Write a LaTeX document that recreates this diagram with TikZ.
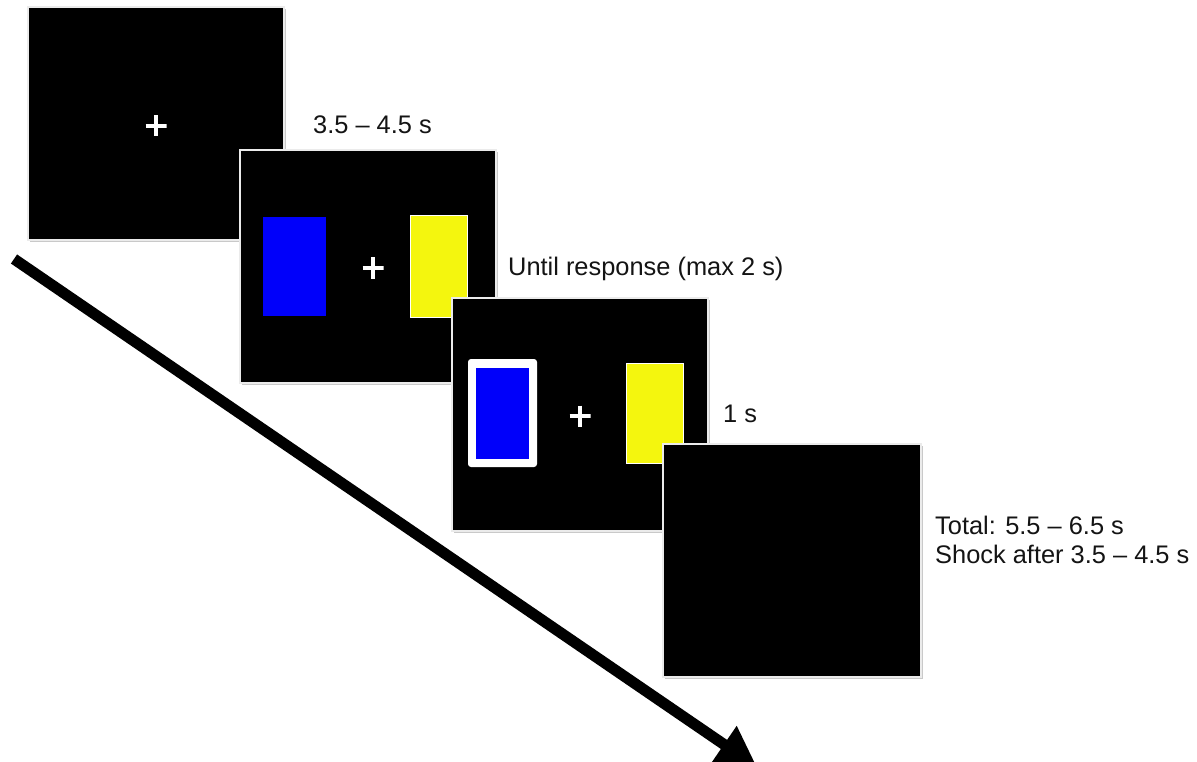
\documentclass[tikz,border=0pt]{standalone}
\usepackage{fontspec}
\setmainfont{Liberation Sans}
\usetikzlibrary{shadows,arrows.meta}
\definecolor{stimyellow}{RGB}{244,246,14}
\definecolor{stimblue}{RGB}{0,0,250}
\definecolor{txt}{RGB}{20,20,20}
\tikzset{
  screen/.style={fill=black, draw=white!92!black, line width=1.2pt, inner sep=0pt, outer sep=0pt,
     minimum width=256pt, minimum height=233pt, anchor=north west,
     drop shadow={shadow xshift=1.5pt, shadow yshift=-2pt, fill=black!60, opacity=0.35}},
  bluecard/.style={fill=stimblue, inner sep=0pt, outer sep=0pt, anchor=north west},
  yellowcard/.style={fill=stimyellow, draw=white, line width=1pt, inner sep=0pt, outer sep=0pt, anchor=north west},
  chosen/.style={fill=white, rounded corners=3pt, inner sep=0pt, outer sep=0pt, anchor=north west},
  fixation/.style={minimum size=21pt, inner sep=0pt,
     path picture={\draw[white, line width=3.6pt]
        (path picture bounding box.north) -- (path picture bounding box.south)
        (path picture bounding box.west) -- (path picture bounding box.east);}},
  label/.style={font=\fontsize{25.4}{29}\selectfont, text=txt, inner sep=0pt, anchor=base west, align=left},
  timearrow/.style={line width=11pt, -{Triangle[length=40pt,width=42pt]}}
}
\begin{document}
\begin{tikzpicture}[x=1pt,y=-1pt]
\clip (0,0) rectangle (1197,762);
\fill[white] (0,0) rectangle (1197,762);

% time arrow
\coordinate (tstart) at (14,259);
\coordinate (tend) at (757,767);
\draw[timearrow] (tstart) -- (tend);

% screen 1: fixation
\node[screen] (s1) at (28,7) {};
\node[fixation] (p1) at (156,126) {};

% screen 2: choice
\node[screen] (s2) at (240,150) {};
\node[bluecard, minimum width=63pt, minimum height=99pt] (b2) at (263,217) {};
\node[yellowcard, minimum width=57pt, minimum height=101pt] (y2) at (410,216) {};
\node[fixation] (p2) at (373,268) {};

% screen 3: feedback
\node[screen] (s3) at (452,298) {};
\node[chosen, minimum width=69pt, minimum height=108pt] (f3) at (468,359) {};
\node[bluecard, minimum width=53pt, minimum height=91pt] (b3) at (476,368) {};
\node[yellowcard, minimum width=57pt, minimum height=100pt] (y3) at (626,363) {};
\node[fixation] (p3) at (580,416) {};

% screen 4: blank
\node[screen, minimum width=258pt] (s4) at (663,444) {};

% labels
\node[label] (t1) at (313,134) {3.5 -- 4.5 s};
\node[label] (t2) at (508,276) {Until response (max 2 s)};
\node[label] (t3) at (723,422) {1 s};
\node[label] (t4) at (935,563) {Total: 5.5 -- 6.5 s\\Shock after 3.5 -- 4.5 s};
\end{tikzpicture}
\end{document}
